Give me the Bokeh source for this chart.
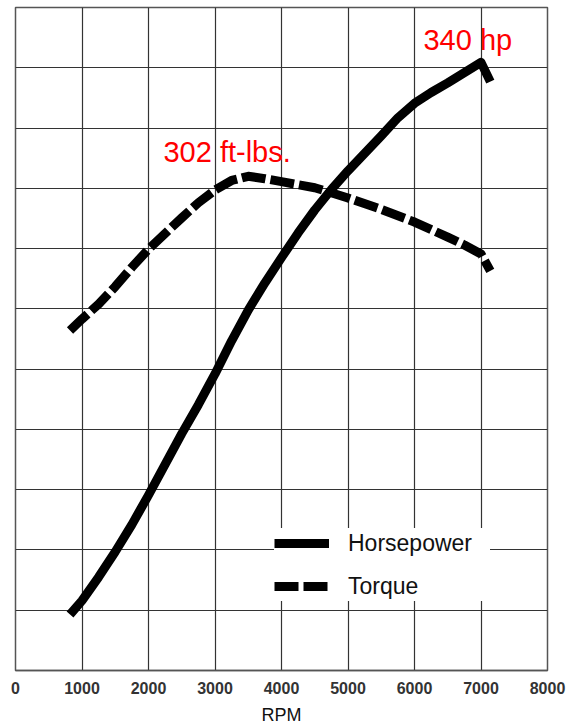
from bokeh.plotting import figure
from bokeh.models import Legend, LegendItem, Label, FixedTicker, Range1d
from bokeh.embed import file_html
from bokeh.resources import INLINE

# Horsepower curve (y in grid units, 11 grid rows)
rpm_hp = [820, 1000, 1250, 1500, 1750, 2000, 2250, 2500, 2750, 3000, 3250, 3500, 3750, 4000,
          4250, 4500, 4750, 5000, 5250, 5500, 5750, 6000, 6250, 6500, 6750, 7000, 7140]
hp = [0.93, 1.16, 1.55, 1.97, 2.42, 2.91, 3.42, 3.93, 4.41, 4.92, 5.47, 5.98, 6.43, 6.85,
      7.26, 7.64, 7.98, 8.29, 8.58, 8.87, 9.17, 9.41, 9.59, 9.75, 9.92, 10.09, 9.77]

# Torque curve
rpm_tq = [820, 1000, 1250, 1500, 1750, 2000, 2250, 2500, 2750, 3000, 3250, 3500, 3750, 4000,
          4500, 5000, 5500, 6000, 6500, 6750, 7000, 7140]
tq = [5.64, 5.83, 6.08, 6.37, 6.69, 6.99, 7.25, 7.51, 7.76, 7.97, 8.13, 8.2, 8.16, 8.11,
      8.01, 7.84, 7.65, 7.44, 7.19, 7.06, 6.91, 6.63]

x_ticks = [0, 1000, 2000, 3000, 4000, 5000, 6000, 7000, 8000]
y_grid = list(range(0, 12))

hp_label = "340 hp"
hp_label_pos = (6135, 10.46)
tq_label = "302 ft-lbs."
tq_label_pos = (2225, 8.61)

FONT = "Liberation Sans"

p = figure(width=567, height=727, output_backend="svg", toolbar_location=None,
           x_range=Range1d(0, 8000), y_range=Range1d(0, 11),
           min_border_left=15, min_border_right=20, min_border_top=7, min_border_bottom=55)
p.background_fill_color = "white"
p.outline_line_color = "#555555"
p.outline_line_width = 1.5

p.xaxis.ticker = FixedTicker(ticks=x_ticks)
p.yaxis.ticker = FixedTicker(ticks=y_grid)
p.yaxis.visible = False
p.xaxis.axis_line_color = "#555555"
p.xaxis.axis_line_width = 1.5
p.xaxis.major_tick_line_color = None
p.xaxis.minor_tick_line_color = None
p.xaxis.major_label_text_font = FONT
p.xaxis.major_label_text_font_style = "bold"
p.xaxis.major_label_text_font_size = "16px"
p.xaxis.major_label_text_color = "#333333"
p.xaxis.major_label_standoff = 5
p.xaxis.axis_label = "RPM"
p.xaxis.axis_label_text_font = FONT
p.xaxis.axis_label_text_font_style = "normal"
p.xaxis.axis_label_text_font_size = "18px"
p.xaxis.axis_label_text_color = "#111111"
p.xaxis.axis_label_standoff = 8

p.xgrid.grid_line_color = "#333333"
p.ygrid.grid_line_color = "#333333"
p.xgrid.grid_line_width = 1.2
p.ygrid.grid_line_width = 1.2

r_hp = p.line(rpm_hp, hp, line_color="black", line_width=9, line_cap="butt", line_join="round")
r_tq = p.line(rpm_tq, tq, line_color="black", line_width=9, line_dash="24 5", line_cap="butt", line_join="round")

p.add_layout(Label(x=hp_label_pos[0], y=hp_label_pos[1], text=hp_label, text_color="red",
                   text_font=FONT, text_font_size="29px", text_baseline="middle"))
p.add_layout(Label(x=tq_label_pos[0], y=tq_label_pos[1], text=tq_label, text_color="red",
                   text_font=FONT, text_font_size="29px", text_baseline="middle"))

legend = Legend(items=[LegendItem(label="Horsepower", renderers=[r_hp]),
                       LegendItem(label="Torque", renderers=[r_tq])],
                location=(259, 69), background_fill_color="white", background_fill_alpha=1.0,
                border_line_color=None, glyph_width=55, glyph_height=30, label_height=30,
                label_width=142, spacing=13, padding=9, margin=0, label_standoff=19,
                label_text_font=FONT, label_text_font_size="23px", label_text_color="#111111")
p.add_layout(legend, "center")

open("out.html", "w").write(file_html(p, INLINE))
